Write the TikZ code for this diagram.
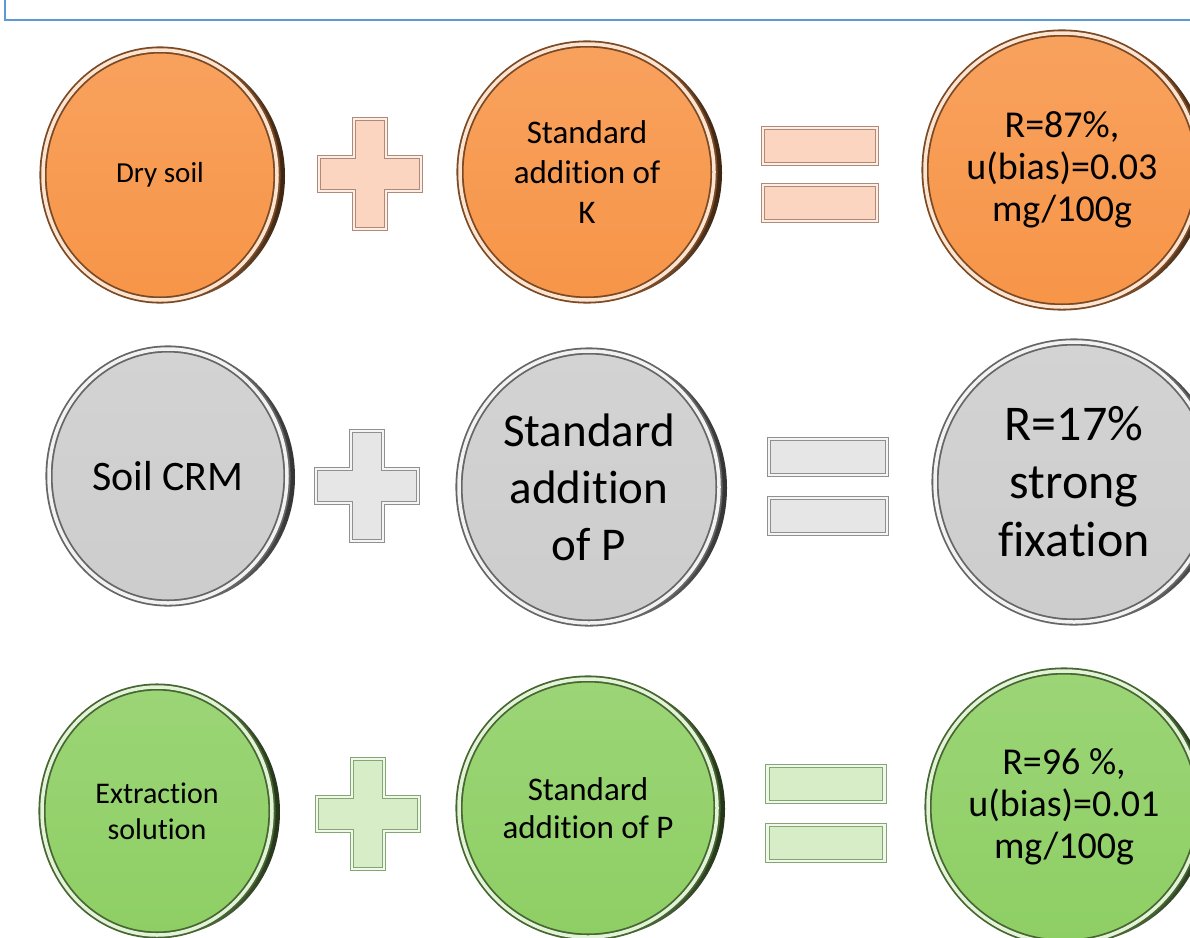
\documentclass[tikz,border=0pt]{standalone}
\usepackage{fontspec}
\setmainfont{Carlito}[Ligatures=NoCommon]
\usetikzlibrary{shapes.geometric}

\definecolor{frameblue}{HTML}{5B9BD5}
\definecolor{kcoin}{HTML}{F79548}
\definecolor{crmcoin}{HTML}{CDCDCD}
\definecolor{pcoin}{HTML}{8ECF64}
\definecolor{kface}{HTML}{FCD5C1}
\definecolor{kedge}{HTML}{B08A78}
\definecolor{crmface}{HTML}{E6E6E6}
\definecolor{crmedge}{HTML}{909090}
\definecolor{pface}{HTML}{D6EDC8}
\definecolor{pedge}{HTML}{84A674}

\tikzset{
  coin/.style={ellipse, inner sep=0pt, align=center, text=black,
    top color=#1!88!white, bottom color=#1,
    draw=#1!50!black, line width=1.8pt, double=#1!25!white, double distance=3.5pt,
    preaction={left color=#1!60!white, right color=#1!25!black,
      transform canvas={xshift=8pt, yshift=-1pt}}},
  signshape/.style 2 args={fill=#1, draw=#2, line width=1.2pt,
    double=#1!40!white, double distance=2.4pt},
  eqbar/.style={rectangle, inner sep=0pt, minimum width=#1, minimum height=36pt},
  pics/plussign/.style 2 args={code={
    \path[signshape={#1}{#2}] (-16,-55) -- (16,-55) -- (16,-17) -- (51,-17)
      -- (51,17) -- (16,17) -- (16,55) -- (-16,55) -- (-16,17) -- (-51,17)
      -- (-51,-17) -- (-16,-17) -- cycle;
  }}
}

\begin{document}
\begin{tikzpicture}[x=1pt, y=-1pt]
  \path[use as bounding box] (0,0) rectangle (1190,937);
  \clip (0,0) rectangle (1190,937);

  % frame of the slide above
  \draw[frameblue, line width=2.5pt] (5,-10) -- (5,20) -- (1200,20);

  % potassium row
  \node[coin=kcoin, minimum width=234pt, minimum height=250pt,
    font=\fontsize{29}{35}\selectfont] (drysoil) at (160,175) {Dry soil};
  \pic (plusK) at (370,174) {plussign={kface}{kedge}};
  \node[coin=kcoin, minimum width=254pt, minimum height=256pt,
    font=\fontsize{33}{40}\selectfont] (addK) at (587,172) {Standard\\addition of\\K};
  \node[eqbar=114pt, signshape={kface}{kedge}] (eqK1) at (820,146) {};
  \node[eqbar=114pt, signshape={kface}{kedge}] (eqK2) at (820,203) {};
  \node[coin=kcoin, minimum width=274pt, minimum height=274pt,
    font=\fontsize{38}{42}\selectfont] (resK) at (1062,170) {R=87\%,\\u(bias)=0.03\\mg/100g};

  % phosphorus in the soil CRM
  \node[coin=crmcoin, minimum width=238pt, minimum height=254pt,
    font=\fontsize{42}{50}\selectfont] (crm) at (168,476) {Soil CRM};
  \pic (plusCRM) at (367,486) {plussign={crmface}{crmedge}};
  \node[coin=crmcoin, minimum width=260pt, minimum height=272pt,
    font=\fontsize{47}{57}\selectfont] (addP) at (589,487) {Standard\\addition\\of P};
  \node[eqbar=118pt, signshape={crmface}{crmedge}] (eqCRM1) at (828,457) {};
  \node[eqbar=118pt, signshape={crmface}{crmedge}] (eqCRM2) at (828,516) {};
  \node[coin=crmcoin, minimum width=278pt, minimum height=280pt,
    font=\fontsize{50}{58}\selectfont] (resP) at (1074,482) {R=17\%\\strong\\fixation};

  % phosphorus in the extraction solution
  \node[coin=pcoin, minimum width=230pt, minimum height=248pt,
    font=\fontsize{30}{36}\selectfont] (extract) at (157,811) {Extraction\\solution};
  \pic (plusSol) at (368,814) {plussign={pface}{pedge}};
  \node[coin=pcoin, minimum width=258pt, minimum height=258pt,
    font=\fontsize{33}{38}\selectfont] (addPsol) at (588,808) {Standard\\addition of P};
  \node[eqbar=117pt, signshape={pface}{pedge}] (eqSol1) at (826,784) {};
  \node[eqbar=117pt, signshape={pface}{pedge}] (eqSol2) at (826,843) {};
  \node[coin=pcoin, minimum width=272pt, minimum height=272pt,
    font=\fontsize{38}{42}\selectfont] (resPsol) at (1064,807) {R=96 \%,\\u(bias)=0.01\\mg/100g};
\end{tikzpicture}
\end{document}
